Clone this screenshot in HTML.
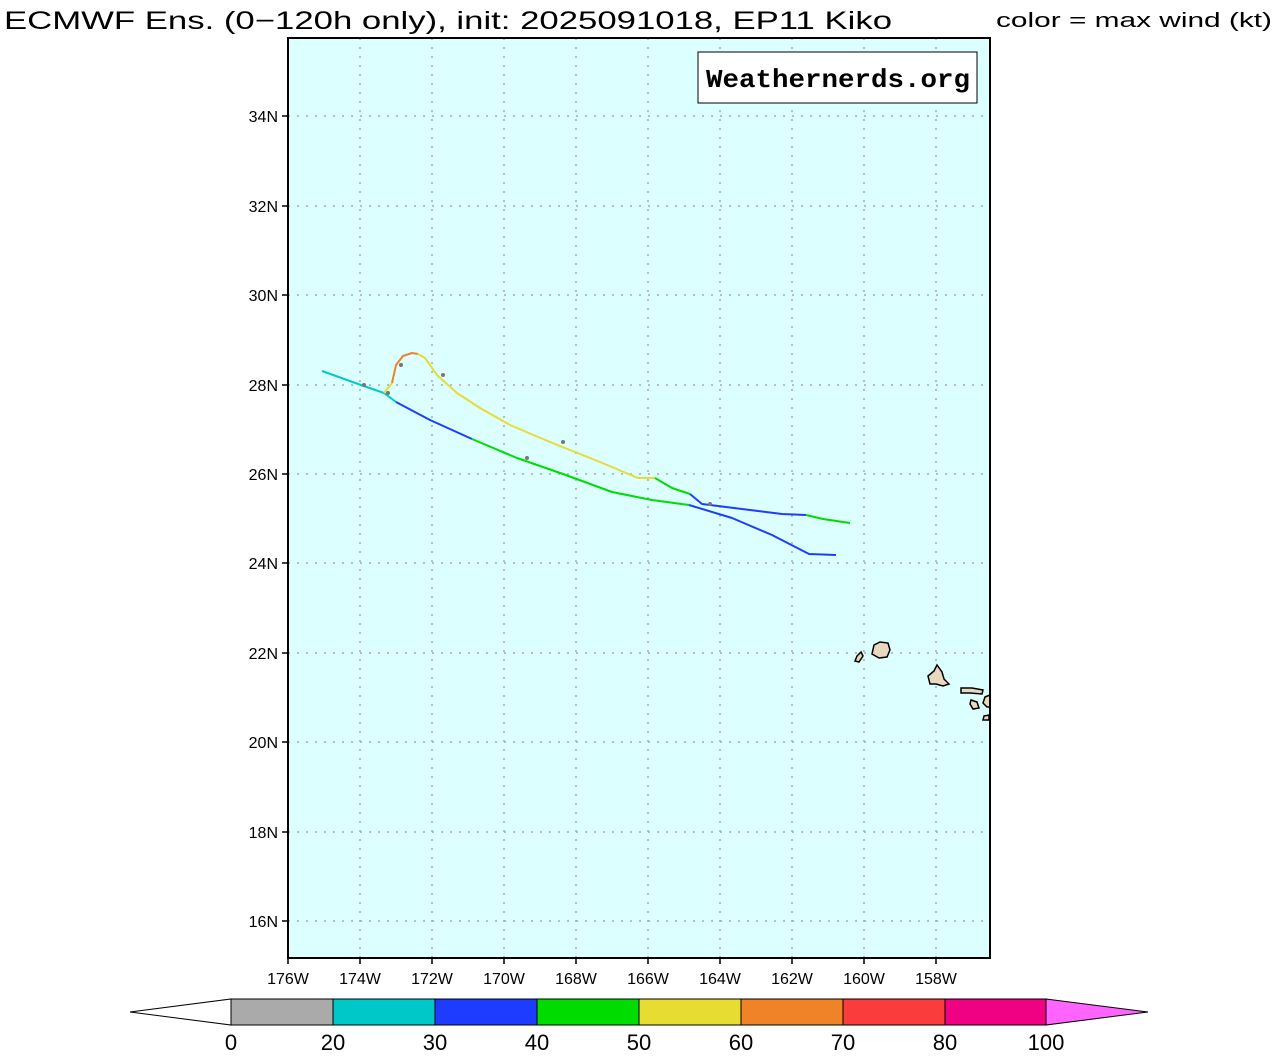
<!DOCTYPE html>
<html><head><style>body{margin:0;background:#fff}svg{display:block}</style></head><body>
<svg width="1278" height="1056" xmlns="http://www.w3.org/2000/svg" font-family="Liberation Sans, sans-serif">
<text x="4" y="29" font-size="25" fill="#000" textLength="888" lengthAdjust="spacingAndGlyphs">ECMWF Ens. (0−120h only), init: 2025091018, EP11 Kiko</text>
<text x="996" y="27" font-size="20" fill="#000" textLength="276" lengthAdjust="spacingAndGlyphs">color = max wind (kt)</text>
<rect x="288" y="38" width="702" height="920" fill="#dcffff"/>
<g stroke="#aaa" stroke-width="1.5" stroke-dasharray="2,7">
<line x1="360" y1="38" x2="360" y2="958"/><line x1="432" y1="38" x2="432" y2="958"/><line x1="504" y1="38" x2="504" y2="958"/><line x1="576" y1="38" x2="576" y2="958"/><line x1="648" y1="38" x2="648" y2="958"/><line x1="720" y1="38" x2="720" y2="958"/><line x1="792" y1="38" x2="792" y2="958"/><line x1="864" y1="38" x2="864" y2="958"/><line x1="936" y1="38" x2="936" y2="958"/>
<line x1="288" y1="116" x2="990" y2="116"/><line x1="288" y1="206" x2="990" y2="206"/><line x1="288" y1="295" x2="990" y2="295"/><line x1="288" y1="385" x2="990" y2="385"/><line x1="288" y1="474" x2="990" y2="474"/><line x1="288" y1="563" x2="990" y2="563"/><line x1="288" y1="653" x2="990" y2="653"/><line x1="288" y1="742" x2="990" y2="742"/><line x1="288" y1="832" x2="990" y2="832"/><line x1="288" y1="921" x2="990" y2="921"/>
</g>
<g fill="#e8d8c0" stroke="#000" stroke-width="1.5">
<path d="M874,645 L880,642 L888,643 L890,650 L887,657 L879,658 L872,654 Z"/>
<path d="M861,652 L863,656 L859,662 L855,661 L857,656 Z"/>
<path d="M928,676 L934,671 L937,665 L942,672 L944,679 L949,684 L943,686 L936,684 L930,684 Z"/>
<path d="M961,688 L972,688 L983,690 L982,694 L970,693 L961,693 Z"/>
<path d="M971,700 L977,702 L979,708 L973,709 L970,704 Z"/>
<path d="M990,695 L985,697 L983,703 L987,707 L990,707 Z"/>
<path d="M984,716 L989,715 L989,720 L983,720 Z"/>
</g>
<g fill="none" stroke-width="2" stroke-linejoin="round">
<polyline stroke="#00c8c8" points="322,371 361,385 384,393 396,402"/>
<polyline stroke="#1e3cff" points="396,402 430,420 472,439"/>
<polyline stroke="#00dc00" points="472,439 517,458 563,474 612,492 652,500 689,505"/>
<polyline stroke="#1e3cff" points="689,505 732,518 772,535 809,554 836,555"/>
<polyline stroke="#e6dc32" points="384,393 392,383"/>
<polyline stroke="#f08228" points="392,383 396,365 403,356 412,353 418,354"/>
<polyline stroke="#e6dc32" points="418,354 425,358 437,375 457,393 480,408 510,425 550,442 600,462 638,478 655,478"/>
<polyline stroke="#00dc00" points="655,478 672,488 690,494"/>
<polyline stroke="#1e3cff" points="690,494 702,504 782,514 806,515"/>
<polyline stroke="#00dc00" points="806,515 823,519 850,523"/>
</g>
<g fill="#777"><circle cx="364" cy="385" r="2"/><circle cx="388" cy="393" r="2"/><circle cx="401" cy="365" r="2"/><circle cx="443" cy="375" r="2"/><circle cx="563" cy="442" r="2"/><circle cx="527" cy="458" r="2"/><circle cx="710" cy="504" r="2"/></g>
<rect x="698" y="52" width="279" height="51" fill="#fff" stroke="#000" stroke-width="1"/>
<text x="706" y="87" font-size="26" font-weight="bold" font-family="Liberation Mono, monospace" textLength="264" lengthAdjust="spacingAndGlyphs">Weathernerds.org</text>
<rect x="288" y="38" width="702" height="920" fill="none" stroke="#000" stroke-width="2"/>
<g stroke="#000" stroke-width="1.5">
<line x1="282" y1="116" x2="288" y2="116"/><line x1="282" y1="206" x2="288" y2="206"/><line x1="282" y1="295" x2="288" y2="295"/><line x1="282" y1="385" x2="288" y2="385"/><line x1="282" y1="474" x2="288" y2="474"/><line x1="282" y1="563" x2="288" y2="563"/><line x1="282" y1="653" x2="288" y2="653"/><line x1="282" y1="742" x2="288" y2="742"/><line x1="282" y1="832" x2="288" y2="832"/><line x1="282" y1="921" x2="288" y2="921"/>
<line x1="288" y1="958" x2="288" y2="964"/><line x1="360" y1="958" x2="360" y2="964"/><line x1="432" y1="958" x2="432" y2="964"/><line x1="504" y1="958" x2="504" y2="964"/><line x1="576" y1="958" x2="576" y2="964"/><line x1="648" y1="958" x2="648" y2="964"/><line x1="720" y1="958" x2="720" y2="964"/><line x1="792" y1="958" x2="792" y2="964"/><line x1="864" y1="958" x2="864" y2="964"/><line x1="936" y1="958" x2="936" y2="964"/>
</g>
<g font-size="16" text-anchor="end">
<text x="278" y="122">34N</text><text x="278" y="212">32N</text><text x="278" y="301">30N</text><text x="278" y="391">28N</text><text x="278" y="480">26N</text><text x="278" y="569">24N</text><text x="278" y="659">22N</text><text x="278" y="748">20N</text><text x="278" y="838">18N</text><text x="278" y="927">16N</text>
</g>
<g font-size="16" text-anchor="middle">
<text x="288" y="984">176W</text><text x="360" y="984">174W</text><text x="432" y="984">172W</text><text x="504" y="984">170W</text><text x="576" y="984">168W</text><text x="648" y="984">166W</text><text x="720" y="984">164W</text><text x="792" y="984">162W</text><text x="864" y="984">160W</text><text x="936" y="984">158W</text>
</g>
<g stroke="#000" stroke-width="1">
<polygon points="130,1012 231,999 231,1025" fill="#fff"/>
<rect x="231" y="999" width="102" height="26" fill="#aaaaaa"/>
<rect x="333" y="999" width="102" height="26" fill="#00c8c8"/>
<rect x="435" y="999" width="102" height="26" fill="#1e3cff"/>
<rect x="537" y="999" width="102" height="26" fill="#00dc00"/>
<rect x="639" y="999" width="102" height="26" fill="#e6dc32"/>
<rect x="741" y="999" width="102" height="26" fill="#f08228"/>
<rect x="843" y="999" width="102" height="26" fill="#fa3c3c"/>
<rect x="945" y="999" width="101" height="26" fill="#f00082"/>
<polygon points="1046,999 1148,1012 1046,1025" fill="#ff64ff"/>
</g>
<g font-size="22" text-anchor="middle">
<text x="231" y="1050">0</text><text x="333" y="1050">20</text><text x="435" y="1050">30</text><text x="537" y="1050">40</text><text x="639" y="1050">50</text><text x="741" y="1050">60</text><text x="843" y="1050">70</text><text x="945" y="1050">80</text><text x="1046" y="1050">100</text>
</g>
</svg>
</body></html>
